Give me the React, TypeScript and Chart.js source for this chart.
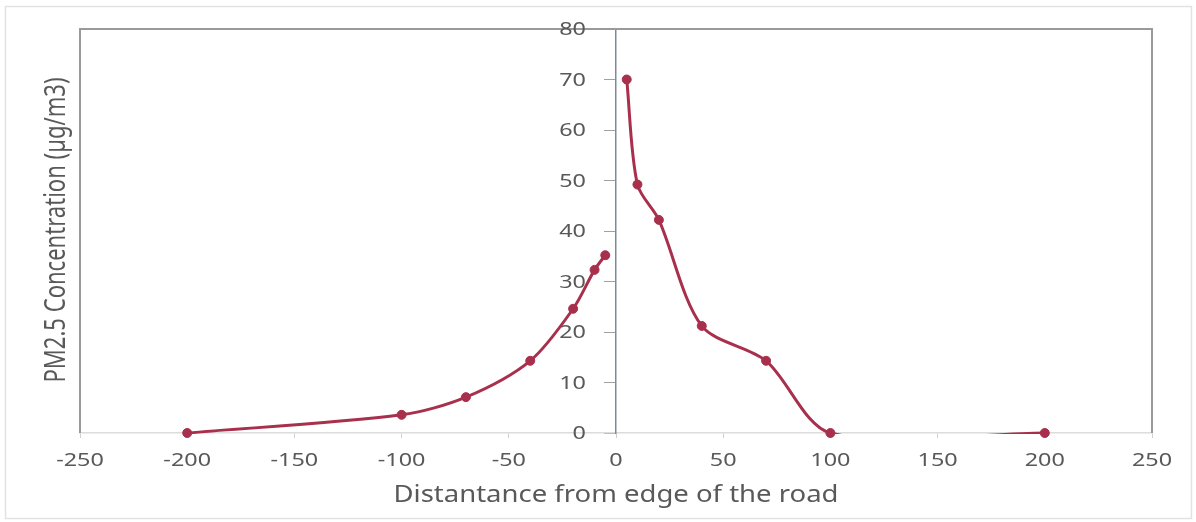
import React, { useEffect, useRef } from "react";
import { Chart, registerables } from "chart.js";

Chart.register(...registerables);

// Data
const leftDistance = [-200, -100, -70, -40, -20, -10, -5];
const leftPM25 = [0, 3.6, 7.1, 14.3, 24.6, 32.3, 35.2];
const rightDistance = [5, 10, 20, 40, 70, 100, 200];
const rightPM25 = [70, 49.2, 42.2, 21.2, 14.3, 0, 0];

const xMin = -250;
const xMax = 250;
const xStep = 50;
const yMin = 0;
const yMax = 80;
const yStep = 10;

const yTitle = "PM2.5 Concentration (µg/m3)";
const xTitle = "Distantance from edge of the road";

const lineColor = "#a8304c";
const textColor = "#595959";

function toPoints(xs: number[], ys: number[]) {
  return xs.map((x, i) => ({ x, y: ys[i] }));
}

// draws text stretched horizontally (the reference image is widened)
function stretchedText(
  ctx: CanvasRenderingContext2D,
  text: string,
  x: number,
  y: number,
  sx: number,
  align: CanvasTextAlign
) {
  ctx.save();
  ctx.translate(x, y);
  ctx.scale(sx, 1);
  ctx.textAlign = align;
  ctx.textBaseline = "middle";
  ctx.fillText(text, 0, 0);
  ctx.restore();
}

const framePlugin = {
  id: "frame",
  beforeDraw(chart: any) {
    const { ctx } = chart;
    ctx.save();
    ctx.strokeStyle = "#e2e2e2";
    ctx.lineWidth = 1.5;
    ctx.strokeRect(5.5, 6.5, 1186, 512);
    ctx.restore();
  },
  beforeDatasetsDraw(chart: any) {
    const { ctx, chartArea: a } = chart;
    const xs = chart.scales.x;
    const ys = chart.scales.y;
    ctx.save();
    // plot-area frame
    ctx.strokeStyle = "#9a9a9a";
    ctx.lineWidth = 2;
    ctx.beginPath();
    ctx.moveTo(a.left, a.bottom);
    ctx.lineTo(a.left, a.top);
    ctx.lineTo(a.right, a.top);
    ctx.lineTo(a.right, a.bottom);
    ctx.stroke();

    ctx.fillStyle = textColor;
    // tick labels
    ctx.font = '18px "Noto Sans"';
    xs.ticks.forEach((t: any) => {
      stretchedText(ctx, String(t.label), xs.getPixelForValue(t.value), 461, 1.3, "center");
    });
    const axisX = xs.getPixelForValue(0);
    ys.ticks.forEach((t: any) => {
      stretchedText(ctx, String(t.label), axisX - 30, ys.getPixelForValue(t.value) + 1, 1.3, "right");
    });

    // x title
    ctx.font = '23px "Noto Sans"';
    const wx = ctx.measureText(xTitle).width;
    stretchedText(ctx, xTitle, (a.left + a.right) / 2, 495, 445 / wx, "center");

    // y title (rotated)
    ctx.font = '22px "Noto Sans"';
    const wy = ctx.measureText(yTitle).width;
    ctx.save();
    ctx.translate(57, 230);
    ctx.rotate(-Math.PI / 2);
    ctx.scale(305 / wy, 1.3);
    ctx.textAlign = "center";
    ctx.textBaseline = "middle";
    ctx.fillText(yTitle, 0, 0);
    ctx.restore();
    ctx.restore();
  },
};

export default function App() {
  const canvasRef = useRef<HTMLCanvasElement | null>(null);

  useEffect(() => {
    document.body.style.margin = "0";
    const canvas = canvasRef.current;
    if (!canvas) return;
    const lineCommon = {
      borderColor: lineColor,
      backgroundColor: lineColor,
      borderWidth: 3,
      pointRadius: 0,
      tension: 0.3,
      showLine: true,
      fill: false,
      clip: 1,
    };
    const pointCommon = {
      borderColor: lineColor,
      backgroundColor: lineColor,
      pointRadius: 4.5,
      pointBorderWidth: 1,
      showLine: false,
      clip: false as any,
    };
    const chart = new Chart(canvas, {
      type: "scatter",
      data: {
        datasets: [
          { ...lineCommon, label: "left", data: toPoints(leftDistance, leftPM25) },
          { ...lineCommon, label: "right", data: toPoints(rightDistance, rightPM25) },
          { ...pointCommon, label: "left points", data: toPoints(leftDistance, leftPM25) },
          { ...pointCommon, label: "right points", data: toPoints(rightDistance, rightPM25) },
        ] as any,
      },
      options: {
        animation: false,
        responsive: true,
        maintainAspectRatio: false,
        elements: { line: { capBezierPoints: false } as any },
        layout: { padding: { left: 80, right: 44, top: 29, bottom: 12 } },
        plugins: {
          legend: { display: false },
          tooltip: { enabled: false },
        },
        scales: {
          x: {
            type: "linear",
            position: "bottom",
            min: xMin,
            max: xMax,
            afterFit: (s: any) => {
              s.height = 77;
            },
            ticks: { stepSize: xStep, display: false },
            grid: {
              drawOnChartArea: false,
              drawTicks: true,
              tickLength: 5,
              tickColor: "#d0d0d0",
            },
            border: { color: "#dcdcdc", width: 1.5 },
            title: { display: false },
          },
          y: {
            type: "linear",
            position: { x: 0 } as any,
            min: yMin,
            max: yMax,
            ticks: { stepSize: yStep, display: false },
            grid: {
              drawOnChartArea: false,
              drawTicks: true,
              tickLength: 11,
              tickColor: "#a0a0a0",
            },
            border: { color: "#7d8a96", width: 1.5 },
          },
        },
      },
      plugins: [framePlugin],
    });
    return () => chart.destroy();
  }, []);

  return (
    <div style={{ position: "relative", width: 1196, height: 522 }}>
      <canvas ref={canvasRef} />
    </div>
  );
}
